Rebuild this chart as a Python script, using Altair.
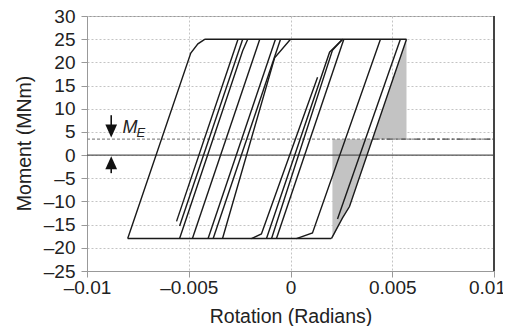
import altair as alt
import pandas as pd

# ---- data ----
x_ticks = [-0.01, -0.005, 0, 0.005, 0.01]
y_ticks = [-25, -20, -15, -10, -5, 0, 5, 10, 15, 20, 25, 30]

M_E = 3.44

# hysteresis branches: rotation (rad) and moment (MNm)
branch_names = ["top", "bottom", "b1", "b2", "b3", "b4", "b5", "b6", "b7", "b8",
                "r1", "r2", "r3", "r4", "r5", "r6", "r7"]
branch_rot = [
    [-0.0042, 0.0057],
    [-0.0080, 0.0020],
    [-0.0080, -0.0049, -0.00455, -0.0042],
    [-0.00560, -0.00258],
    [-0.00545, -0.00235],
    [-0.00545, -0.00235, -0.0021],
    [-0.00482, -0.00151],
    [-0.00405, -0.00074],
    [-0.00380, -0.00049],
    [-0.00334, -0.00078, 0.0],
    [-0.00192, -0.00143, 0.00133],
    [-0.00118, 0.00192, 0.00256],
    [-0.00093, 0.00206, 0.00256],
    [-0.00069, 0.00262],
    [0.00029, 0.00108, 0.00442],
    [0.00201, 0.00255, 0.00290, 0.0057],
    [0.00231, 0.00540],
]
branch_mom = [
    [25, 25],
    [-18, -18],
    [-18, 22, 24, 25],
    [-14.3, 25],
    [-15.3, 25],
    [-18, 22.5, 25],
    [-18, 25],
    [-18, 25],
    [-18, 25],
    [-18, 21, 25],
    [-18, -17, 16.8],
    [-18, 22.2, 25],
    [-18, 22.6, 25],
    [-18, 25],
    [-18, -16.8, 25],
    [-18, -13.6, -11.1, 25],
    [-13.8, 25],
]

# shaded regions (horizontal bands: moment level, left rot, right rot)
shade_part = ["low", "low", "low", "low", "up", "up"]
shade_mom = [-18, -13.6, -11.1, M_E, M_E, 25]
shade_left = [0.00206, 0.00206, 0.00206, 0.00206, 0.00403, 0.0057]
shade_right = [0.00206, 0.00255, 0.00290, 0.00403, 0.0057, 0.0057]

# ---- build tables ----
rows = []
for name, rs, ms in zip(branch_names, branch_rot, branch_mom):
    for i, (r, m) in enumerate(zip(rs, ms)):
        rows.append({"branch": name, "i": i, "rot": r, "mom": m})
lines_df = pd.DataFrame(rows)
shade_df = pd.DataFrame({"part": shade_part, "mom": shade_mom,
                         "rot": shade_left, "rot2": shade_right})

FONT = "Liberation Sans"
TXT = "#222222"

xscale = alt.Scale(domain=[-0.01, 0.01], nice=False, zero=False)
yscale = alt.Scale(domain=[-25, 30], nice=False, zero=False)

x_axis = alt.Axis(
    values=x_ticks,
    labelExpr="datum.value == 0 ? '0' : (datum.value < 0 ? '–' : '') + format(abs(datum.value), '.3~f')",
    labelOffset={"condition": {"test": "datum.value > 0.0099", "value": -7}, "value": 0},
    grid=True, gridColor="#c4c4c4", gridDash=[2, 2], gridWidth=1,
    domainColor="#999999", tickColor="#999999", tickSize=6,
    labelFont=FONT, labelFontSize=19, labelColor=TXT, labelPadding=1,
    labelFlush=False, labelOverlap=False,
    title="Rotation (Radians)", titleFont=FONT, titleFontSize=19.5,
    titleFontWeight="normal", titleColor=TXT, titleY=51, titleBaseline="alphabetic",
)
y_axis = alt.Axis(
    values=y_ticks,
    labelExpr="(datum.value < 0 ? '–' : '') + format(abs(datum.value), 'd')",
    grid=True, gridColor="#c4c4c4", gridDash=[2, 2], gridWidth=1,
    domainColor="#999999", tickColor="#999999", tickSize=6,
    labelFont=FONT, labelFontSize=19, labelColor=TXT, labelPadding=6,
    labelFlush=False, labelOverlap=False,
    title="Moment (MNm)", titleFont=FONT, titleFontSize=19.5,
    titleFontWeight="normal", titleColor=TXT, titleAngle=-90,
    titleX=-63, titleY=127, titleAlign="center", titleBaseline="middle",
)


def X(field="rot"):
    return alt.X(f"{field}:Q", scale=xscale, axis=x_axis)


def Y(field="mom"):
    return alt.Y(f"{field}:Q", scale=yscale, axis=y_axis)


shade = alt.Chart(shade_df).mark_area(orient="horizontal", color="#c3c3c3").encode(
    y=Y(), x=X(), x2="rot2:Q", detail="part:N"
)

ref_df = pd.DataFrame({"rot": [-0.01], "rot2": [0.01], "zero": [0.0], "me": [M_E],
                       "me_start": [0.00403]})

zero_line = alt.Chart(ref_df).mark_rule(color="#555555", strokeWidth=1.2).encode(
    x=X(), x2="rot2:Q", y=alt.Y("zero:Q", scale=yscale, axis=y_axis)
)
me_line = alt.Chart(ref_df).mark_rule(color="#8a8a8a", strokeWidth=1.2, strokeDash=[3, 2]).encode(
    x=X(), x2="rot2:Q", y=alt.Y("me:Q", scale=yscale, axis=y_axis)
)
me_line2 = alt.Chart(ref_df).mark_rule(color="#555555", strokeWidth=1.3, strokeDash=[6, 3, 2, 3]).encode(
    x=alt.X("me_start:Q", scale=xscale, axis=x_axis), x2="rot2:Q",
    y=alt.Y("me:Q", scale=yscale, axis=y_axis)
)
right_border = alt.Chart(ref_df).mark_rule(color="#444444", strokeWidth=2).encode(
    x=alt.X("rot2:Q", scale=xscale, axis=x_axis),
    y=alt.value(0), y2=alt.value(255)
)

lines = alt.Chart(lines_df).mark_line(color="#1a1a1a", strokeWidth=1.4).encode(
    x=X(), y=Y(), detail="branch:N", order="i:Q"
)

# M_E annotation arrows
arrow_x = -0.00881
stem_df = pd.DataFrame({"rot": [arrow_x, arrow_x], "m1": [8.6, -1.5], "m2": [4.9, -3.9]})
stems = alt.Chart(stem_df).mark_rule(color="#111111", strokeWidth=1.6).encode(
    x=X(), y=alt.Y("m1:Q", scale=yscale, axis=y_axis), y2="m2:Q"
)
head_df = pd.DataFrame({"rot": [arrow_x, arrow_x], "mom": [5.2, -1.65],
                        "dir": ["down", "up"]})
heads = alt.Chart(head_df).mark_point(filled=True, opacity=1, color="#111111", strokeWidth=0).encode(
    x=X(), y=Y(),
    shape=alt.Shape("dir:N", scale=alt.Scale(domain=["down", "up"],
                                              range=["M-0.9,-1L0.9,-1L0,1Z",
                                                     "M-0.9,1L0.9,1L0,-1Z"]),
                    legend=None),
    size=alt.value(170),
)
m_df = pd.DataFrame({"rot": [-0.00826], "mom": [4.73], "t": ["M"]})
m_text = alt.Chart(m_df).mark_text(font=FONT, fontSize=18, fontStyle="italic", color=TXT,
                                   align="left", baseline="alphabetic").encode(
    x=X(), y=Y(), text="t:N"
)
e_df = pd.DataFrame({"rot": [-0.00757], "mom": [3.87], "t": ["E"]})
e_text = alt.Chart(e_df).mark_text(font=FONT, fontSize=13, fontStyle="italic", color=TXT,
                                   align="left", baseline="alphabetic").encode(
    x=X(), y=Y(), text="t:N"
)

chart = alt.layer(
    shade, zero_line, me_line, me_line2, lines, right_border, stems, heads, m_text, e_text
).properties(
    width=407, height=255,
    autosize=alt.AutoSizeParams(type="none"),
    padding={"left": 79, "top": 8, "right": 9, "bottom": 55},
).configure_view(stroke="#999999", strokeWidth=1)

chart.save("out.html", embed_options={"renderer": "svg", "actions": False})
